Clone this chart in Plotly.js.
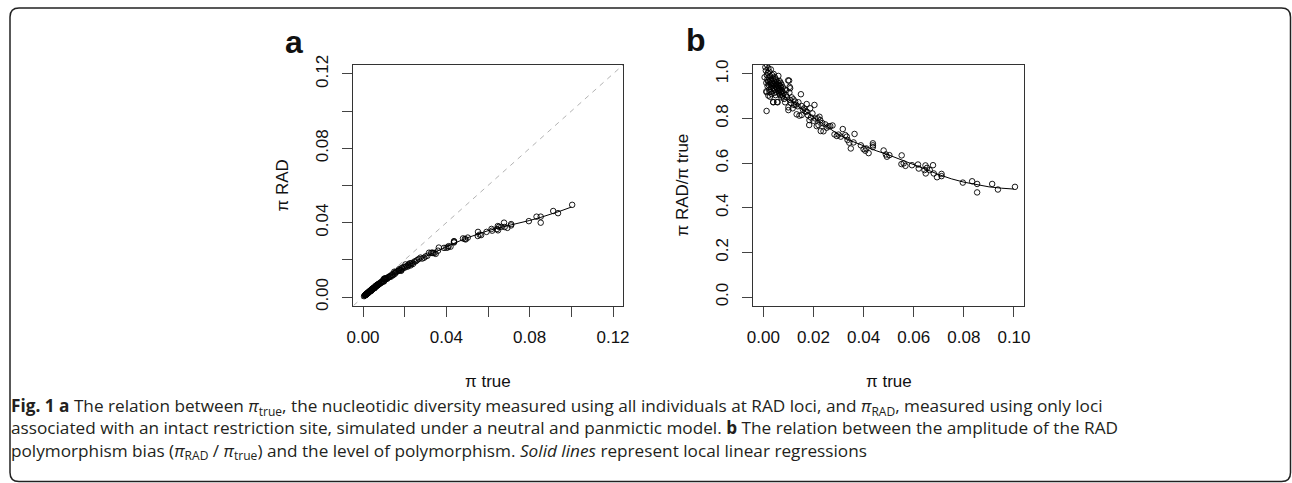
<!DOCTYPE html>
<html><head><meta charset="utf-8">
<script src="https://cdn.plot.ly/plotly-3.0.1.min.js"></script>
<style>html,body{margin:0;padding:0;background:#fff;}#chart{width:1292px;height:483px;}</style>
</head><body><div id="chart"></div>
<script>
// pi_true and pi_RAD/pi_true
const piTrue = [
0.0005,0.0008,0.0010,0.0012,0.0012,0.0013,0.0013,0.0014,0.0015,0.0016,
0.0017,0.0018,0.0019,0.0020,0.0020,0.0021,0.0022,0.0023,0.0024,0.0025,
0.0026,0.0027,0.0028,0.0029,0.0030,0.0031,0.0032,0.0033,0.0034,0.0035,
0.0036,0.0037,0.0038,0.0039,0.0040,0.0040,0.0041,0.0042,0.0043,0.0044,
0.0045,0.0046,0.0047,0.0048,0.0049,0.0050,0.0051,0.0052,0.0053,0.0054,
0.0055,0.0056,0.0057,0.0058,0.0059,0.0060,0.0061,0.0062,0.0063,0.0064,
0.0065,0.0066,0.0067,0.0068,0.0069,0.0070,0.0071,0.0072,0.0073,0.0074,
0.0075,0.0077,0.0078,0.0080,0.0083,0.0085,0.0087,0.0090,0.0092,0.0095,
0.0099,0.0100,0.0100,0.0103,0.0104,0.0105,0.0107,0.0107,0.0110,0.0113,
0.0117,0.0120,0.0123,0.0127,0.0130,0.0133,0.0137,0.0140,0.0144,0.0150,
0.0153,0.0153,0.0158,0.0163,0.0168,0.0173,0.0173,0.0178,0.0183,0.0184,
0.0187,0.0190,0.0196,0.0200,0.0204,0.0208,0.0213,0.0217,0.0220,0.0224,
0.0227,0.0229,0.0235,0.0240,0.0247,0.0253,0.0260,0.0267,0.0276,0.0284,
0.0293,0.0300,0.0309,0.0317,0.0327,0.0333,0.0336,0.0343,0.0349,0.0360,
0.0364,0.0389,0.0400,0.0407,0.0411,0.0420,0.0437,0.0437,0.0437,0.0480,
0.0489,0.0493,0.0503,0.0551,0.0552,0.0560,0.0567,0.0593,0.0617,0.0620,
0.0643,0.0647,0.0648,0.0653,0.0664,0.0677,0.0680,0.0693,0.0711,0.0711,
0.0796,0.0833,0.0853,0.0853,0.0913,0.0936,0.1004
];
const piRatio = [
0.985,1.030,1.015,0.960,0.922,0.918,0.834,0.995,1.040,0.975,
0.945,1.005,0.965,0.903,1.025,0.985,0.950,0.930,1.010,0.919,
0.970,0.898,0.990,0.955,1.020,0.940,0.975,0.910,0.960,0.995,
0.945,0.925,0.980,0.874,0.955,0.873,1.000,0.935,0.968,0.915,
0.950,0.985,0.930,0.960,0.905,0.945,0.975,0.920,0.955,0.938,
0.874,0.965,0.873,0.948,0.925,0.991,0.958,0.935,0.912,0.950,
0.968,0.928,0.905,0.945,0.960,0.918,0.938,0.895,0.952,0.925,
0.908,0.901,0.940,0.915,0.888,0.930,0.873,0.905,0.927,0.895,
0.971,0.838,0.850,0.970,0.916,0.942,0.936,0.883,0.870,0.895,
0.846,0.886,0.861,0.876,0.862,0.819,0.855,0.873,0.813,0.909,
0.856,0.816,0.840,0.846,0.832,0.831,0.865,0.815,0.771,0.793,
0.846,0.805,0.823,0.790,0.861,0.800,0.766,0.801,0.771,0.808,
0.793,0.744,0.780,0.743,0.774,0.759,0.765,0.766,0.769,0.729,
0.722,0.728,0.719,0.753,0.726,0.719,0.704,0.692,0.666,0.693,
0.731,0.680,0.663,0.656,0.666,0.645,0.672,0.680,0.689,0.657,
0.639,0.629,0.636,0.596,0.635,0.599,0.588,0.591,0.594,0.576,
0.569,0.590,0.554,0.579,0.569,0.591,0.554,0.537,0.542,0.552,
0.513,0.519,0.507,0.469,0.507,0.482,0.494
];
// local linear regression (loess) curve
const fitTrue = [0.001,0.005,0.010,0.015,0.020,0.025,0.030,0.035,0.040,0.045,0.050,0.055,0.060,0.065,0.070,0.075,0.080,0.085,0.090,0.095,0.100];
const fitRatio = [0.965,0.925,0.885,0.845,0.805,0.765,0.728,0.700,0.677,0.656,0.637,0.616,0.595,0.572,0.549,0.530,0.515,0.503,0.494,0.488,0.484];
// identity line y = x
const identity = [-1, 1];
// ticks and tick labels
const tickValsA = [0, 0.04, 0.08, 0.12];
const tickTextA = ['0.00', '0.04', '0.08', '0.12'];
const minorTickValsA = [0.02, 0.06, 0.10];
const xTickValsB = [0, 0.02, 0.04, 0.06, 0.08, 0.10];
const xTickTextB = ['0.00', '0.02', '0.04', '0.06', '0.08', '0.10'];
const yTickValsB = [0, 0.2, 0.4, 0.6, 0.8, 1.0];
const yTickTextB = ['0.0', '0.2', '0.4', '0.6', '0.8', '1.0'];

const piRad = piTrue.map((x, i) => x * piRatio[i]);
const fitRad = fitTrue.map((x, i) => x * fitRatio[i]);

const W = 1292, H = 483;
const px = v => v / W;
const py = v => 1 - v / H;

const marker = {symbol: 'circle-open', size: 5.5, color: '#000', line: {width: 0.9, color: '#000'}};
const traces = [
  {x: identity, y: identity, xaxis: 'x', yaxis: 'y', mode: 'lines', line: {color: '#b3b3b3', width: 1, dash: '5px,5px'}, hoverinfo: 'skip'},
  {x: piTrue, y: piRad, xaxis: 'x', yaxis: 'y', mode: 'markers', marker: marker},
  {x: fitTrue, y: fitRad, xaxis: 'x', yaxis: 'y', mode: 'lines', line: {color: '#000', width: 1}},
  {x: piTrue, y: piRatio, xaxis: 'x2', yaxis: 'y2', mode: 'markers', marker: marker},
  {x: fitTrue, y: fitRatio, xaxis: 'x2', yaxis: 'y2', mode: 'lines', line: {color: '#000', width: 1}}
];

const tickFont = {family: 'Liberation Sans, Arial, sans-serif', size: 17, color: '#111'};
const axisBase = {
  showline: true, mirror: true, linecolor: '#333', linewidth: 1.3,
  ticks: 'outside', ticklen: 10, tickwidth: 1, tickcolor: '#444',
  showgrid: false, zeroline: false, tickmode: 'array', tickfont: tickFont,
  fixedrange: true
};
const minorA = {tickmode: 'array', tickvals: minorTickValsA, ticks: 'outside', ticklen: 10, tickwidth: 1, tickcolor: '#444', showgrid: false};
const xBase = Object.assign({}, axisBase, {ticklabelstandoff: 5});
const yBase = Object.assign({}, axisBase, {ticklabelstandoff: 7, tickangle: -90});

const layout = {
  width: W, height: H,
  margin: {l: 0, r: 0, t: 0, b: 0},
  paper_bgcolor: '#fff', plot_bgcolor: '#fff',
  showlegend: false,
  xaxis: Object.assign({}, xBase, {domain: [px(353), px(623)], range: [-0.0048, 0.1248], tickvals: tickValsA, ticktext: tickTextA, minor: minorA, anchor: 'y'}),
  yaxis: Object.assign({}, yBase, {domain: [py(306), py(65)], range: [-0.0048, 0.1248], tickvals: tickValsA, ticktext: tickTextA, minor: minorA, anchor: 'x'}),
  xaxis2: Object.assign({}, xBase, {domain: [px(753.3), px(1024)], range: [-0.004, 0.104], tickvals: xTickValsB, ticktext: xTickTextB, anchor: 'y2'}),
  yaxis2: Object.assign({}, yBase, {domain: [py(306), py(65)], range: [-0.04, 1.04], tickvals: yTickValsB, ticktext: yTickTextB, anchor: 'x2'}),
  shapes: [
    {type: 'path', xref: 'paper', yref: 'paper', line: {color: '#222', width: 1.5},
     path: (function () {
       const x0 = px(10), x1 = px(1290.5), yt = py(8), yb = py(481.5), rx = 9 / W, ry = 9 / H;
       return `M ${x0 + rx},${yt} L ${x1 - rx},${yt} Q ${x1},${yt} ${x1},${yt - ry} L ${x1},${yb + ry} Q ${x1},${yb} ${x1 - rx},${yb} L ${x0 + rx},${yb} Q ${x0},${yb} ${x0},${yb + ry} L ${x0},${yt - ry} Q ${x0},${yt} ${x0 + rx},${yt} Z`;
     })()}
  ],
  annotations: []
};

const lab = {family: 'Liberation Sans, Arial, sans-serif', size: 17, color: '#111'};
const ann = layout.annotations;
ann.push({xref: 'paper', yref: 'paper', x: px(282), y: py(185.5), text: 'π RAD', textangle: -90, showarrow: false, font: lab, xanchor: 'center', yanchor: 'middle'});
ann.push({xref: 'paper', yref: 'paper', x: px(488), y: py(381), text: 'π true', showarrow: false, font: lab, xanchor: 'center', yanchor: 'middle'});
ann.push({xref: 'paper', yref: 'paper', x: px(682), y: py(185.5), text: 'π RAD/π true', textangle: -90, showarrow: false, font: lab, xanchor: 'center', yanchor: 'middle'});
ann.push({xref: 'paper', yref: 'paper', x: px(888.6), y: py(381), text: 'π true', showarrow: false, font: lab, xanchor: 'center', yanchor: 'middle'});
const big = {family: 'Liberation Sans, Arial, sans-serif', size: 32, color: '#111'};
ann.push({xref: 'paper', yref: 'paper', x: px(283), y: py(42), text: '<b>a</b>', showarrow: false, font: big, xanchor: 'left', yanchor: 'middle'});
ann.push({xref: 'paper', yref: 'paper', x: px(684), y: py(40), text: '<b>b</b>', showarrow: false, font: big, xanchor: 'left', yanchor: 'middle'});

const cap = {family: 'Open Sans, sans-serif', size: 17.2, color: '#231f20'};
const capLines = [
  '<b>Fig. 1 a</b> The relation between <i>π</i><sub>true</sub>, the nucleotidic diversity measured using all individuals at RAD loci, and <i>π</i><sub>RAD</sub>, measured using only loci',
  'associated with an intact restriction site, simulated under a neutral and panmictic model. <b>b</b> The relation between the amplitude of the RAD',
  'polymorphism bias (<i>π</i><sub>RAD</sub> / <i>π</i><sub>true</sub>) and the level of polymorphism. <i>Solid lines</i> represent local linear regressions'
];
ann.push({xref: 'paper', yref: 'paper', x: px(10), y: py(428.5), text: capLines.join('<br>'), showarrow: false, font: cap, xanchor: 'left', yanchor: 'middle', align: 'left', borderpad: 0});

Plotly.newPlot('chart', traces, layout, {staticPlot: true, displayModeBar: false});
</script></body></html>
